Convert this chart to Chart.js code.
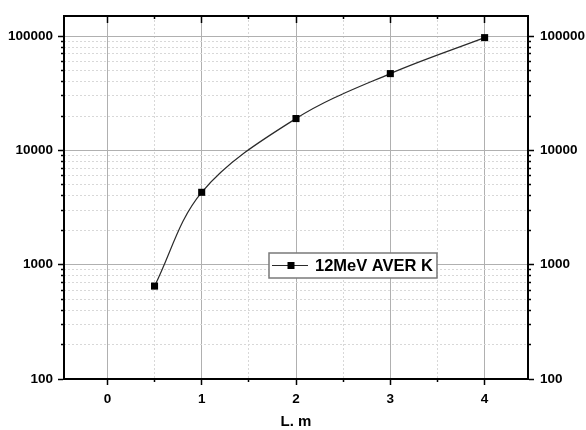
<!DOCTYPE html>
<html>
<head>
<meta charset="utf-8">
<script src="https://cdn.jsdelivr.net/npm/chart.js@4"></script>
<style>
  html, body { margin: 0; padding: 0; background: #fff; }
</style>
</head>
<body>
<canvas id="chart" width="586" height="430"></canvas>
<script>
// data
const lengths = [0.5, 1, 2, 3, 4];
const averK = [650, 4300, 19000, 47000, 97000];
const seriesLabel = '12MeV AVER K';
const xTitle = 'L. m';

// axis ticks
const xMajorTicks = [0, 1, 2, 3, 4];
const xMinorTicks = [0.5, 1.5, 2.5, 3.5];
const yMajorTicks = [100, 1000, 10000, 100000];
const yMinorSteps = [2, 3, 4, 5, 6, 7, 8, 9];

const xMin = -0.46, xMax = 4.46;
const yMin = 100, yMax = 150000;
const yMinorTicks = yMajorTicks.flatMap(d => yMinorSteps.map(s => d * s)).filter(v => v < yMax);

const FONT = "'Liberation Sans', Arial, Helvetica, sans-serif";

function setTicks(values) {
    return scale => { scale.ticks = values.map(v => ({ value: v })); };
}
function fixSize(size) {
    return scale => {
        if (scale.isHorizontal()) scale.height = size;
        else scale.width = size;
    };
}

// builds one axis layer; several layers share the same range
function axis(opts) {
    const isX = opts.position === 'top' || opts.position === 'bottom';
    return {
        type: isX ? 'linear' : 'logarithmic',
        position: opts.position,
        min: isX ? xMin : yMin,
        max: isX ? xMax : yMax,
        weight: opts.weight || 0,
        afterBuildTicks: setTicks(opts.ticks),
        afterFit: fixSize(opts.size || 0),
        grid: {
            drawOnChartArea: !!opts.gridColor,
            color: opts.gridColor || 'transparent',
            lineWidth: 1,
            drawTicks: true,
            tickLength: opts.tickLength,
            tickColor: '#000',
            tickWidth: 1.5,
            tickBorderDash: []
        },
        border: {
            display: !!opts.frame,
            color: '#000',
            width: 2,
            dash: opts.dash || []
        },
        ticks: {
            display: !!opts.labels,
            autoSkip: false,
            maxRotation: 0,
            padding: opts.padding || 3,
            color: '#000',
            font: { family: FONT, size: 13.5, weight: 'bold' },
            callback: v => String(v)
        },
        title: opts.title ? {
            display: true,
            text: opts.title,
            color: '#000',
            font: { family: FONT, size: 15, weight: 'bold', lineHeight: 1.1 },
            padding: { top: 0, bottom: 0 }
        } : { display: false }
    };
}

const legendBox = {
    id: 'legendBox',
    afterDatasetsDraw(chart, args, opts) {
        const ctx = chart.ctx;
        const ds = chart.data.datasets[0];
        ctx.save();
        ctx.font = opts.font;
        const textW = ctx.measureText(ds.label).width;
        const x = opts.left, y = opts.top, h = opts.height;
        const w = opts.textStart + textW + opts.padRight;
        const cy = y + h / 2;

        ctx.fillStyle = '#fff';
        ctx.fillRect(x, y, w, h);
        ctx.strokeStyle = '#7a7a7a';
        ctx.lineWidth = 1.5;
        ctx.strokeRect(x, y, w, h);

        ctx.strokeStyle = ds.borderColor;
        ctx.lineWidth = ds.borderWidth;
        ctx.beginPath();
        ctx.moveTo(x + 3, cy);
        ctx.lineTo(x + 39, cy);
        ctx.stroke();
        ctx.fillStyle = ds.pointBackgroundColor;
        ctx.fillRect(x + 18.5, cy - 3.5, 7, 7);

        ctx.fillStyle = '#000';
        ctx.textBaseline = 'middle';
        ctx.textAlign = 'left';
        ctx.fillText(ds.label, x + opts.textStart, cy + 0.5);
        ctx.restore();
    }
};

new Chart(document.getElementById('chart'), {
    type: 'line',
    data: {
        datasets: [{
            label: seriesLabel,
            data: lengths.map((l, i) => ({ x: l, y: averK[i] })),
            borderColor: '#2a2a2a',
            borderWidth: 1.2,
            tension: 0.35,
            pointStyle: 'rect',
            pointRadius: 5,
            pointHoverRadius: 5,
            pointBorderWidth: 0,
            pointBackgroundColor: '#000',
            xAxisID: 'x',
            yAxisID: 'y'
        }]
    },
    options: {
        responsive: false,
        animation: false,
        events: [],
        layout: { padding: { top: 16, left: 0, right: 0, bottom: 0 } },
        plugins: {
            legend: { display: false },
            tooltip: { enabled: false },
            legendBox: {
                left: 269, top: 253, height: 25,
                textStart: 46, padRight: 4,
                font: "bold 16.5px " + FONT
            }
        },
        scales: {
            x: axis({ position: 'bottom', weight: 1, size: 51, ticks: xMajorTicks, gridColor: '#b0b0b0',
                      tickLength: 6, frame: true, labels: true, padding: 6, title: xTitle }),
            xMinor: axis({ position: 'bottom', ticks: xMinorTicks, gridColor: '#d8d8d8', dash: [2, 2], tickLength: 3 }),
            xTop: axis({ position: 'top', weight: 1, ticks: xMajorTicks, tickLength: -7, frame: true }),
            xTopMinor: axis({ position: 'top', ticks: xMinorTicks, tickLength: -3 }),
            y: axis({ position: 'left', weight: 1, size: 64, ticks: yMajorTicks, gridColor: '#b0b0b0',
                      tickLength: 6, frame: true, labels: true, padding: 5 }),
            yMinor: axis({ position: 'left', ticks: yMinorTicks, gridColor: '#d8d8d8', dash: [2, 2], tickLength: 3 }),
            yRight: axis({ position: 'right', weight: 1, size: 58, ticks: yMajorTicks,
                           tickLength: 6, frame: true, labels: true, padding: 6 }),
            yRightMinor: axis({ position: 'right', ticks: yMinorTicks, tickLength: 3 })
        }
    },
    plugins: [legendBox]
});
</script>
</body>
</html>
